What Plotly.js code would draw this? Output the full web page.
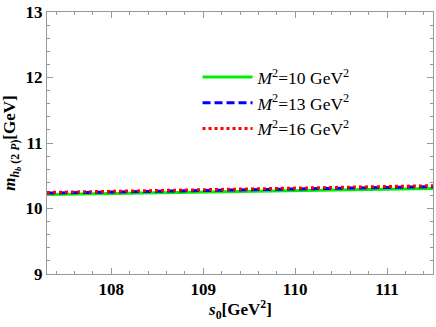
<!DOCTYPE html>
<html>
<head>
<meta charset="utf-8">
<script src="https://cdn.plot.ly/plotly-3.0.1.min.js"></script>
<style>html,body{margin:0;padding:0;background:#fff;}#plot{width:436px;height:327px;}</style>
</head>
<body>
<div id="plot"></div>
<script>
var s0 = [107.3, 107.8, 108.3, 108.8, 109.3, 109.8, 110.3, 110.8, 111.3, 111.5];
var m10 = [10.215, 10.225, 10.235, 10.245, 10.255, 10.266, 10.277, 10.288, 10.300, 10.305];
var m13 = [10.235, 10.246, 10.257, 10.268, 10.279, 10.291, 10.303, 10.315, 10.328, 10.333];
var m16 = [10.245, 10.257, 10.268, 10.280, 10.292, 10.304, 10.317, 10.330, 10.343, 10.348];
var names = ['<i>M</i><sup>2</sup>=10 GeV<sup>2</sup>', '<i>M</i><sup>2</sup>=13 GeV<sup>2</sup>', '<i>M</i><sup>2</sup>=16 GeV<sup>2</sup>'];
var xTicks = [108, 109, 110, 111];
var yTicks = [9, 10, 11, 12, 13];
var xTitle = '<b><i>s</i><sub>0</sub>[GeV<sup>2</sup>]</b>';

var SERIF = "Liberation Serif";

var traces = [
  {x: s0, y: m10, name: names[0], mode: 'lines', line: {color: '#00ee00', width: 3, dash: 'solid'}},
  {x: s0, y: m13, name: names[1], mode: 'lines', line: {color: '#0000ff', width: 3, dash: '8px,4px'}},
  {x: s0, y: m16, name: names[2], mode: 'lines', line: {color: '#ff0000', width: 3, dash: '3px,3px'}}
];

var axisCommon = {
  showgrid: false, zeroline: false, showline: true, linecolor: '#999999', linewidth: 1, mirror: 'ticks',
  ticks: 'inside', ticklen: 6, tickcolor: '#999999', tickwidth: 1,
  tickfont: {family: SERIF, size: 17, color: '#000', weight: 'bold'}
};

var layout = {
  width: 436, height: 327,
  font: {family: SERIF},
  margin: {l: 47, r: 3, t: 12, b: 53},
  paper_bgcolor: '#fff', plot_bgcolor: '#fff',
  showlegend: true,
  legend: {x: 0.39, y: 0.82, xanchor: 'left', yanchor: 'top', bgcolor: 'rgba(0,0,0,0)',
           font: {family: SERIF, size: 17.5, color: '#000'},
           itemwidth: 50, tracegroupgap: 0},
  xaxis: Object.assign({}, axisCommon, {
    range: [107.3, 111.5], tickvals: xTicks, ticktext: xTicks.map(String),
    minor: {dtick: 0.2, ticks: 'inside', ticklen: 3, tickcolor: '#999999'}
  }),
  yaxis: Object.assign({}, axisCommon, {
    range: [9, 13], tickvals: yTicks, ticktext: yTicks.map(String),
    minor: {dtick: 0.2, ticks: 'inside', ticklen: 3, tickcolor: '#999999'},
    title: {text: '<i>m</i><sub><i>h<sub>b</sub></i> (2 <i>P</i>)</sub>[GeV]', standoff: 8,
            font: {family: SERIF, size: 17, color: '#000', weight: 'bold'}}
  }),
  annotations: [{
    text: xTitle, xref: 'paper', yref: 'paper', x: 0.5, y: 0, xanchor: 'center', yanchor: 'top',
    yshift: -21, showarrow: false, font: {family: SERIF, size: 17, color: '#000'}
  }]
};

Plotly.newPlot('plot', traces, layout, {displayModeBar: false, staticPlot: true});
</script>
</body>
</html>
